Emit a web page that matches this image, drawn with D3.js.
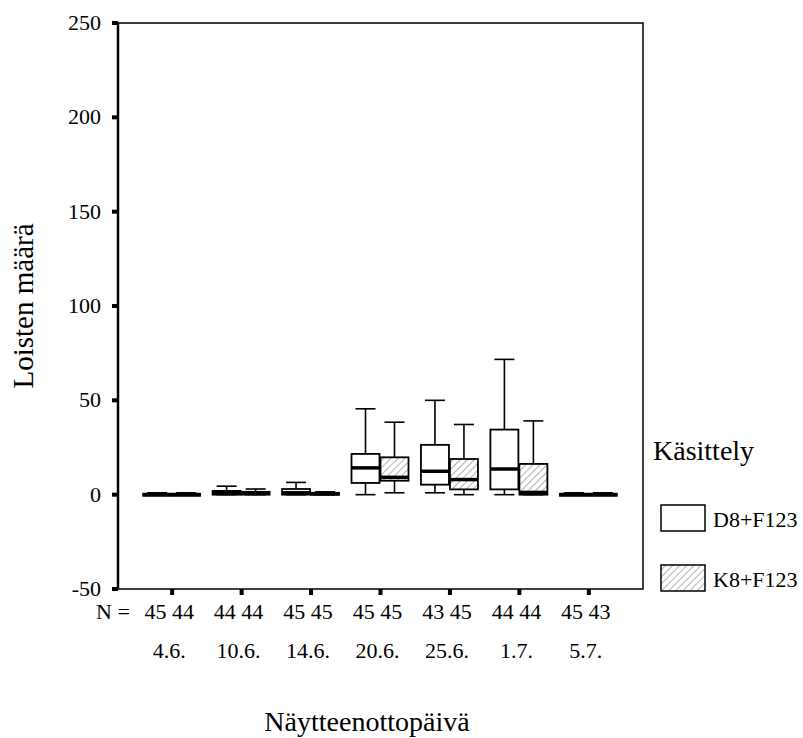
<!DOCTYPE html>
<html>
<head>
<meta charset="utf-8">
<script src="https://cdn.jsdelivr.net/npm/d3@7"></script>
<style>
  body { margin: 0; background: #fff; }
</style>
</head>
<body>
<svg width="803" height="738" font-family="'Liberation Serif', 'Times New Roman', Times, serif"></svg>
<script>
(function () {

  // categories and series
  var dates = ['4.6.', '10.6.', '14.6.', '20.6.', '25.6.', '1.7.', '5.7.']
  var series = ['D8+F123', 'K8+F123']
  var nD8 = [45, 44, 45, 45, 43, 44, 45]
  var nK8 = [44, 44, 45, 45, 45, 44, 43]

  // box stats: [lower whisker, q1, median, q3, upper whisker]
  var statsD8 = [
    [0, 0, 0, 0.5, 1],
    [0, 0, 1, 2, 4.5],
    [0, 0, 1, 3, 6.5],
    [0, 6.2, 14.2, 21.6, 45.5],
    [1, 5.3, 12.4, 26.4, 50],
    [0, 2.8, 13.6, 34.5, 71.7],
    [0, 0, 0, 0.5, 1]
  ]
  var statsK8 = [
    [0, 0, 0, 0.5, 1],
    [0, 0, 1, 1.5, 3],
    [0, 0, 0.5, 1, 1.5],
    [1, 7.4, 9.2, 19.8, 38.4],
    [0, 2.8, 8, 18.9, 37.2],
    [0, 0, 1.2, 16.3, 39.1],
    [0, 0, 0, 0.5, 1]
  ]
  var yTicks = [-50, 0, 50, 100, 150, 200, 250]

  var svg = d3.select('svg')

  var left = 118, right = 643, top = 23, bottom = 589

  var x = d3.scalePoint().domain(dates).range([left, right]).padding(0.78)
  var y = d3.scaleLinear().domain([-50, 250]).range([bottom, top])

  // hatch pattern
  var pat = svg.append('defs').append('pattern')
    .attr('id', 'hatch')
    .attr('patternUnits', 'userSpaceOnUse')
    .attr('width', 5).attr('height', 5)
    .attr('patternTransform', 'rotate(45)')
  pat.append('rect').attr('width', 5).attr('height', 5).attr('fill', '#fff')
  pat.append('line')
    .attr('x1', 0).attr('y1', 0).attr('x2', 0).attr('y2', 5)
    .attr('stroke', '#666').attr('stroke-width', 1)

  // frame
  svg.append('rect')
    .attr('x', left).attr('y', top)
    .attr('width', right - left).attr('height', bottom - top)
    .attr('fill', 'none').attr('stroke', '#000').attr('stroke-width', 1.5)
  svg.append('line')
    .attr('x1', left).attr('x2', left).attr('y1', top).attr('y2', bottom)
    .attr('stroke', '#000').attr('stroke-width', 2.5)

  // y ticks
  svg.selectAll('.ytick')
    .data(yTicks)
    .enter().append('rect')
    .attr('x', left - 6).attr('width', 6)
    .attr('y', function(d) { return y(d) - 2 })
    .attr('height', 4)
    .attr('fill', '#000')
  svg.selectAll('.ylab')
    .data(yTicks)
    .enter().append('text')
    .attr('x', left - 17)
    .attr('y', function(d) { return y(d) + 7 })
    .attr('text-anchor', 'end')
    .attr('font-size', 22)
    .text(function(d) { return d })

  // x ticks
  svg.selectAll('.xtick')
    .data(dates)
    .enter().append('rect')
    .attr('x', function(d) { return x(d) - 2 })
    .attr('width', 4)
    .attr('y', bottom)
    .attr('height', 6)
    .attr('fill', '#000')

  function drawBoxes(stats, offset, fill) {
    var w = 28
    var g = svg.append('g')
    stats.forEach(function(s, i) {
      var cx = x(dates[i]) + offset
      var x0 = cx - w / 2
      // whisker
      g.append('line')
        .attr('x1', cx).attr('x2', cx)
        .attr('y1', y(s[0])).attr('y2', y(s[4]))
        .attr('stroke', '#000').attr('stroke-width', 1.6)
      ;[s[0], s[4]].forEach(function(v) {
        g.append('line')
          .attr('x1', cx - 10).attr('x2', cx + 10)
          .attr('y1', y(v)).attr('y2', y(v))
          .attr('stroke', '#000').attr('stroke-width', 1.6)
      })
      // box
      g.append('rect')
        .attr('x', x0).attr('width', w)
        .attr('y', y(s[3]))
        .attr('height', Math.max(y(s[1]) - y(s[3]), 2))
        .attr('fill', fill)
        .attr('stroke', '#000').attr('stroke-width', 1.8)
      // median
      g.append('line')
        .attr('x1', x0).attr('x2', x0 + w)
        .attr('y1', y(s[2])).attr('y2', y(s[2]))
        .attr('stroke', '#000').attr('stroke-width', 3.5)
    })
  }

  drawBoxes(statsD8, -15, '#fff')
  drawBoxes(statsK8, 14, 'url(#hatch)')

  // N counts
  svg.append('text')
    .attr('x', 96).attr('y', 619)
    .attr('font-size', 22)
    .text('N =')
  svg.selectAll('.nlab')
    .data(dates)
    .enter().append('text')
    .attr('x', function(d) { return x(d) - 3 })
    .attr('y', 619)
    .attr('text-anchor', 'middle')
    .attr('font-size', 22)
    .text(function(d, i) { return nD8[i] + ' ' + nK8[i] })

  // date labels
  svg.selectAll('.xlab')
    .data(dates)
    .enter().append('text')
    .attr('x', function(d) { return x(d) - 3 })
    .attr('y', 658)
    .attr('text-anchor', 'middle')
    .attr('font-size', 22)
    .text(function(d) { return d })

  // axis titles
  svg.append('text')
    .attr('x', 367).attr('y', 731)
    .attr('text-anchor', 'middle')
    .attr('font-size', 28)
    .text('Näytteenottopäivä')
  svg.append('text')
    .attr('transform', 'translate(33,306) rotate(-90)')
    .attr('text-anchor', 'middle')
    .attr('font-size', 29)
    .text('Loisten määrä')

  // legend
  svg.append('text')
    .attr('x', 653).attr('y', 460)
    .attr('font-size', 28)
    .text('Käsittely')
  var legFills = ['#fff', 'url(#hatch)']
  series.forEach(function(s, i) {
    var ly = 505 + i * 60
    svg.append('rect')
      .attr('x', 661).attr('y', ly)
      .attr('width', 44).attr('height', 26)
      .attr('fill', legFills[i])
      .attr('stroke', '#000').attr('stroke-width', 1.5)
    svg.append('text')
      .attr('x', 713).attr('y', ly + 22)
      .attr('font-size', 22)
      .text(s)
  })

})()
</script>
</body>
</html>
